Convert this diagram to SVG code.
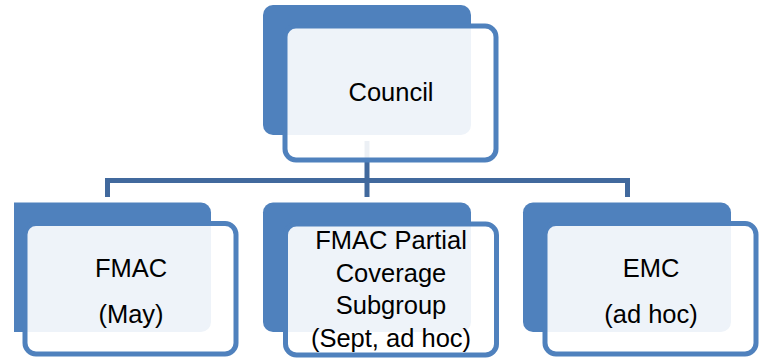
<svg xmlns="http://www.w3.org/2000/svg" width="764" height="358" viewBox="0 0 764 358">
<style>
.back{fill:#4F81BD;}
.front{fill:#FFFFFF;fill-opacity:0.9;stroke:#4F81BD;stroke-width:5;}
.conn{fill:none;stroke:#41699D;stroke-width:5;stroke-linejoin:miter;}
text{font-family:"Liberation Sans",Arial,sans-serif;font-size:25.5px;fill:#000000;text-anchor:middle;}
</style>
<rect width="764" height="358" fill="#FFFFFF"/>
<g id="connectors">
<path class="conn" d="M107.5,197 V180.5 H627.5 V197"/>
<path class="conn" d="M367,141 V197"/>
</g>
<g id="node-council">
<rect class="back" x="263" y="5" width="208" height="130" rx="10"/>
<rect class="front" x="285" y="26" width="211" height="134" rx="11"/>
<text x="391" y="101">Council</text>
</g>
<g id="node-fmac">
<path class="back" d="M14,202.5 H201 A10,10 0 0 1 211,212.5 V322 A10,10 0 0 1 201,332 H14 Z"/>
<rect class="front" x="25" y="223.5" width="211" height="130.5" rx="11"/>
<text x="131" y="276.7">FMAC</text>
<text x="131" y="323">(May)</text>
</g>
<g id="node-fmac-partial">
<rect class="back" x="263" y="202.5" width="208" height="129.5" rx="10"/>
<rect class="front" x="285.5" y="224" width="211" height="131" rx="11"/>
<text x="391" y="249.3">FMAC Partial</text>
<text x="391" y="281.7">Coverage</text>
<text x="391" y="314.1">Subgroup</text>
<text x="391" y="346.5">(Sept, ad hoc)</text>
</g>
<g id="node-emc">
<rect class="back" x="523" y="202.5" width="208" height="129.5" rx="10"/>
<rect class="front" x="545" y="223.5" width="211" height="130.5" rx="11"/>
<text x="651" y="276.7">EMC</text>
<text x="651" y="323">(ad hoc)</text>
</g>
</svg>
